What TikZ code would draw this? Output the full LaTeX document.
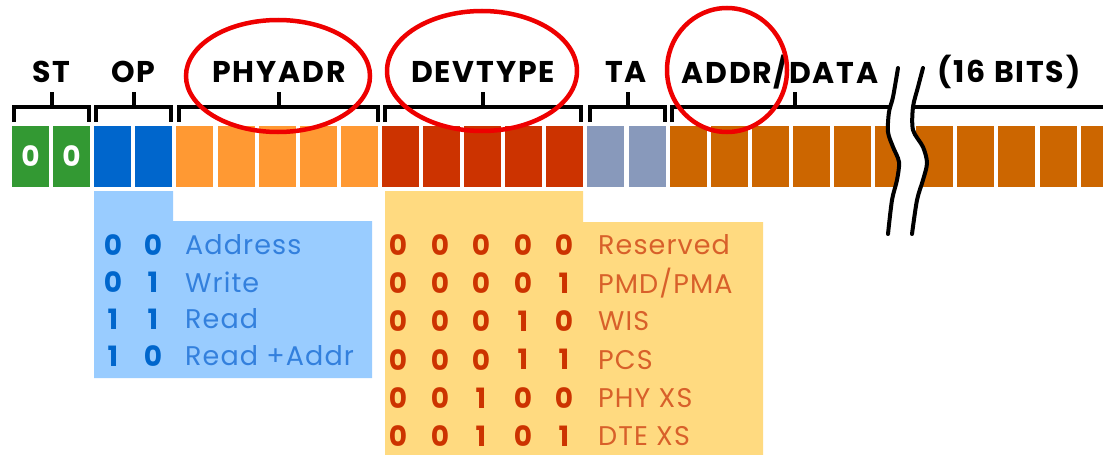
\documentclass[tikz,border=0pt]{standalone}
\usepackage{fontspec}
\setmainfont{Poppins}
\newfontfamily\labfont[LetterSpace=6]{Poppins}
\newfontfamily\tabfont[LetterSpace=4]{Poppins}
\definecolor{cst}{HTML}{339933}
\definecolor{cop}{HTML}{0066CC}
\definecolor{cphy}{HTML}{FF9933}
\definecolor{cdev}{HTML}{CC3300}
\definecolor{cta}{HTML}{8899BB}
\definecolor{cdat}{HTML}{CC6600}
\definecolor{opbg}{HTML}{99CCFF}
\definecolor{devbg}{HTML}{FFDA80}
\definecolor{optxt}{HTML}{3380DD}
\definecolor{devtxt}{HTML}{D8602A}
\definecolor{ring}{HTML}{EE0000}
\tikzset{
  bit/.style={minimum width=37pt,minimum height=61pt,inner sep=0pt,draw=none},
  brk/.style={line width=4pt,black},
  lab/.style={font=\labfont\bfseries\fontsize{30}{30}\selectfont,inner sep=0pt},
  opdig/.style={font=\bfseries\fontsize{28}{28}\selectfont,text=cop,inner sep=0pt},
  optx/.style={font=\tabfont\fontsize{27}{27}\selectfont,text=optxt,inner sep=0pt,anchor=west},
  devdig/.style={font=\bfseries\fontsize{28}{28}\selectfont,text=cdev,inner sep=0pt},
  devtx/.style={font=\tabfont\fontsize{27}{27}\selectfont,text=devtxt,inner sep=0pt,anchor=west},
  ringline/.style={line width=4.5pt,ring},
  breakline/.style={line width=4pt,black,line cap=round}
}
\begin{document}
\begin{tikzpicture}[x=1pt,y=-1pt]
\useasboundingbox[fill=white] (0,0) rectangle (1103,455);
% info boxes
\fill[opbg] (94,191) -- (173,191) -- (173,221) -- (372,221) -- (372,378) -- (94,378) -- cycle;
\fill[devbg] (385,191) -- (583,191) -- (583,222) -- (763,222) -- (763,455) -- (385,455) -- cycle;
% bits
\foreach \k/\c in {0/cst,1/cst,2/cop,3/cop,4/cphy,5/cphy,6/cphy,7/cphy,8/cphy,
  9/cdev,10/cdev,11/cdev,12/cdev,13/cdev,14/cta,15/cta,
  16/cdat,17/cdat,18/cdat,19/cdat,20/cdat,21/cdat,22/cdat,23/cdat,24/cdat,25/cdat,26/cdat}
  \node[bit,fill=\c] (b\k) at ({12+41.1*\k+18.5},156.5) {};
\node[font=\bfseries\fontsize{28}{28}\selectfont,text=white,inner sep=0pt] (z0) at (b0) {0};
\node[font=\bfseries\fontsize{28}{28}\selectfont,text=white,inner sep=0pt] (z1) at (b1) {0};
% brackets
\draw[brk] (14,122) -- (14,107) -- (89,107) -- (89,122);
\draw[brk] (51.5,107) -- (51.5,92);
\draw[brk] (96,122) -- (96,107) -- (171,107) -- (171,122);
\draw[brk] (133.5,107) -- (133.5,92);
\draw[brk] (179,122) -- (179,107) -- (378,107) -- (378,122);
\draw[brk] (278.5,107) -- (278.5,92);
\draw[brk] (385,122) -- (385,107) -- (581,107) -- (581,122);
\draw[brk] (483,107) -- (483,92);
\draw[brk] (590,122) -- (590,107) -- (665,107) -- (665,122);
\draw[brk] (627.5,107) -- (627.5,92);
\draw[brk] (672,122) -- (672,107) -- (1103,107);
\draw[brk] (795,107) -- (795,92);
% labels
\node[lab] (lst) at (51.5,72) {ST};
\node[lab] (lop) at (133.5,72) {OP};
\node[lab] (lphy) at (279,72) {PHYADR};
\node[lab] (ldev) at (483,72) {DEVTYPE};
\node[lab] (lta) at (626,72) {TA};
\node[lab] (ladr) at (780,72) {ADDR/DATA};
\node[lab] (lbits) at (1009,72) {(16 BITS)};
% break
\fill[white] plot[smooth] coordinates {(898,60) (893,97) (889,112) (888,132) (893,147) (899,162) (897,180) (892,200) (888,240)}
  -- plot[smooth] coordinates {(912,240) (917,200) (923,180) (927,163) (923,147) (913,130) (913,107) (918,87) (923,60)} -- cycle;
\draw[breakline] plot[smooth] coordinates {(898,68) (893,97) (889,112) (888,132) (893,147) (899,162) (897,180) (892,200) (888,234)};
\draw[breakline] plot[smooth] coordinates {(923,68) (918,87) (913,107) (913,130) (923,147) (927,163) (923,180) (917,200) (912,234)};
% OP table
\foreach \i/\a/\b/\t in {0/0/0/Address,1/0/1/Write,2/1/1/Read,3/1/0/Read +Addr}{
  \node[opdig] (oa\i) at (113,{245+37*\i}) {\a};
  \node[opdig] (ob\i) at (153,{245+37*\i}) {\b};
  \node[optx] (ot\i) at (185,{245+37*\i}) {\t};
}
% DEVTYPE table
\foreach \i/\a/\b/\c/\d/\e/\t in {0/0/0/0/0/0/Reserved,1/0/0/0/0/1/{PMD/PMA},2/0/0/0/1/0/WIS,
  3/0/0/0/1/1/PCS,4/0/0/1/0/0/PHY XS,5/0/0/1/0/1/DTE XS}{
  \node[devdig] (da\i) at (398,{245+38.2*\i}) {\a};
  \node[devdig] (db\i) at (440,{245+38.2*\i}) {\b};
  \node[devdig] (dc\i) at (481,{245+38.2*\i}) {\c};
  \node[devdig] (dd\i) at (523,{245+38.2*\i}) {\d};
  \node[devdig] (de\i) at (564,{245+38.2*\i}) {\e};
  \node[devtx] (dt\i) at (598,{245+38.2*\i}) {\t};
}
% red rings
\draw[ringline] (278,76) ellipse [x radius=92, y radius=56];
\draw[ringline] (482,71) ellipse [x radius=95, y radius=60];
\draw[ringline] (727,70) ellipse [x radius=60, y radius=62];
\end{tikzpicture}
\end{document}
